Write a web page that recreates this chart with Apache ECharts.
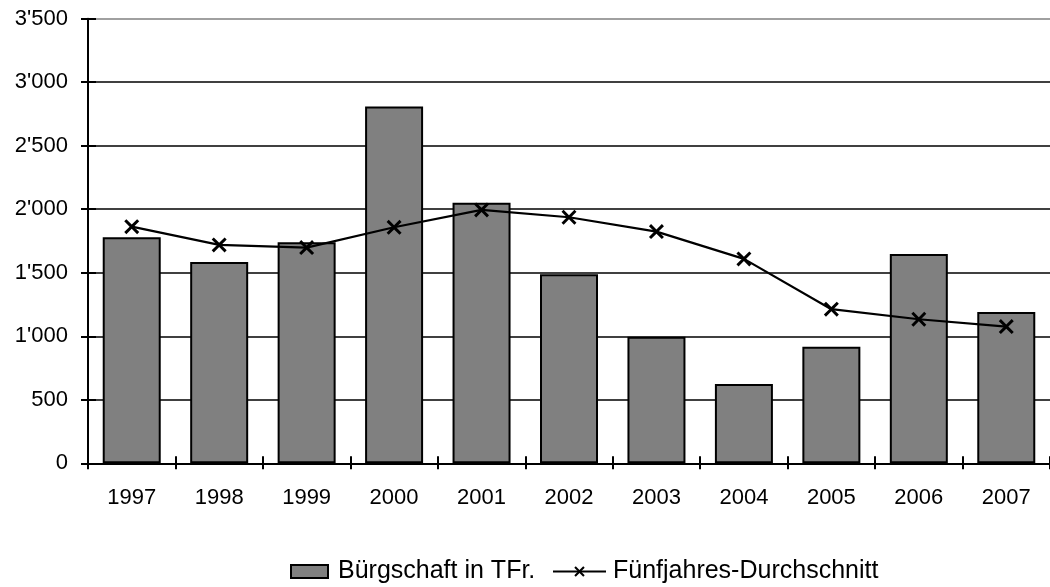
<!DOCTYPE html>
<html>
<head>
<meta charset="utf-8">
<script src="https://cdn.jsdelivr.net/npm/echarts@6/dist/echarts.min.js"></script>
<style>html,body{margin:0;padding:0;background:#fff}#c{width:1050px;height:587px}</style>
</head>
<body>
<div id="c"></div>
<script>
var categories = ['1997','1998','1999','2000','2001','2002','2003','2004','2005','2006','2007'];
var barValues = [1780, 1585, 1740, 2808, 2052, 1488, 997, 624, 918, 1648, 1191];
var avgValues = [1863, 1719, 1698, 1858, 1995, 1937, 1824, 1609, 1213, 1134, 1076];
var barName = 'Bürgschaft in TFr.';
var lineName = 'Fünfjahres-Durchschnitt';
var yMin = 0, yMax = 3500, yStep = 500;

var FONT = '"Liberation Sans", Arial, sans-serif';
var X_SYMBOL = 'path://M0,1.4 L1.4,0 L5,3.6 L8.6,0 L10,1.4 L6.4,5 L10,8.6 L8.6,10 L5,6.4 L1.4,10 L0,8.6 L3.6,5 Z';
function fmt(v){ return String(v).replace(/\B(?=(\d{3})+(?!\d))/g, "'"); }

var chart = echarts.init(document.getElementById('c'), null, {renderer:'canvas'});
var splitColors = ['#000','#000','#000','#000','#000','#000','#000','#808080'];
chart.setOption({
  animation: false,
  backgroundColor: '#fff',
  grid: { left: 88, right: 0, top: 18.7, bottom: 123.7, containLabel: false },
  legend: [{
    top: 554, left: 285,
    itemWidth: 37, itemHeight: 13,
    textStyle: { fontFamily: FONT, fontSize: 25, color: '#000', padding: [0,0,0,5] },
    data: [
      { name: barName, icon: 'rect', itemStyle: { color: '#808080', borderColor: '#000', borderWidth: 2 } }
    ]
  },{
    top: 554, left: 547,
    itemWidth: 53, itemHeight: 13,
    textStyle: { fontFamily: FONT, fontSize: 25, color: '#000', padding: [0,0,0,2] },
    data: [ { name: lineName } ]
  }],
  xAxis: [{
    type: 'category', data: categories, boundaryGap: true,
    axisLine: { lineStyle: { color: '#000', width: 2 } },
    axisTick: { show: true, length: 6, alignWithLabel: false, lineStyle: { color: '#000', width: 2 } },
    axisLabel: { fontFamily: FONT, fontSize: 22, color: '#000', margin: 24 },
    splitLine: { show: false }
  },{
    type: 'category', data: categories, boundaryGap: true, position: 'bottom',
    axisLine: { show: false },
    axisTick: { show: true, inside: true, length: 7, lineStyle: { color: '#000', width: 2 } },
    axisLabel: { show: false }, splitLine: { show: false }
  }],
  yAxis: [{
    type: 'value', min: yMin, max: yMax, interval: yStep,
    axisLine: { show: true, lineStyle: { color: '#000', width: 2 } },
    axisTick: { show: true, length: 7, lineStyle: { color: '#000', width: 2 } },
    axisLabel: { fontFamily: FONT, fontSize: 22, color: '#000', margin: 20, formatter: fmt },
    splitLine: { show: true, lineStyle: { color: splitColors, width: 1.5 } }
  },{
    type: 'value', min: yMin, max: yMax, interval: yStep, position: 'left',
    axisLine: { show: false },
    axisTick: { show: true, inside: true, length: 8, lineStyle: { color: '#000', width: 2 } },
    axisLabel: { show: false }, splitLine: { show: false }
  }],
  series: [{
    name: barName, type: 'bar', data: barValues, barWidth: 58,
    itemStyle: { color: '#808080', borderColor: '#000', borderWidth: 2 },
    z: 2
  },{
    name: lineName, type: 'line', data: avgValues,
    symbol: X_SYMBOL, symbolSize: 15, showSymbol: true,
    lineStyle: { color: '#000', width: 2.2 },
    itemStyle: { color: '#000' },
    z: 3
  }]
});
</script>
</body>
</html>
